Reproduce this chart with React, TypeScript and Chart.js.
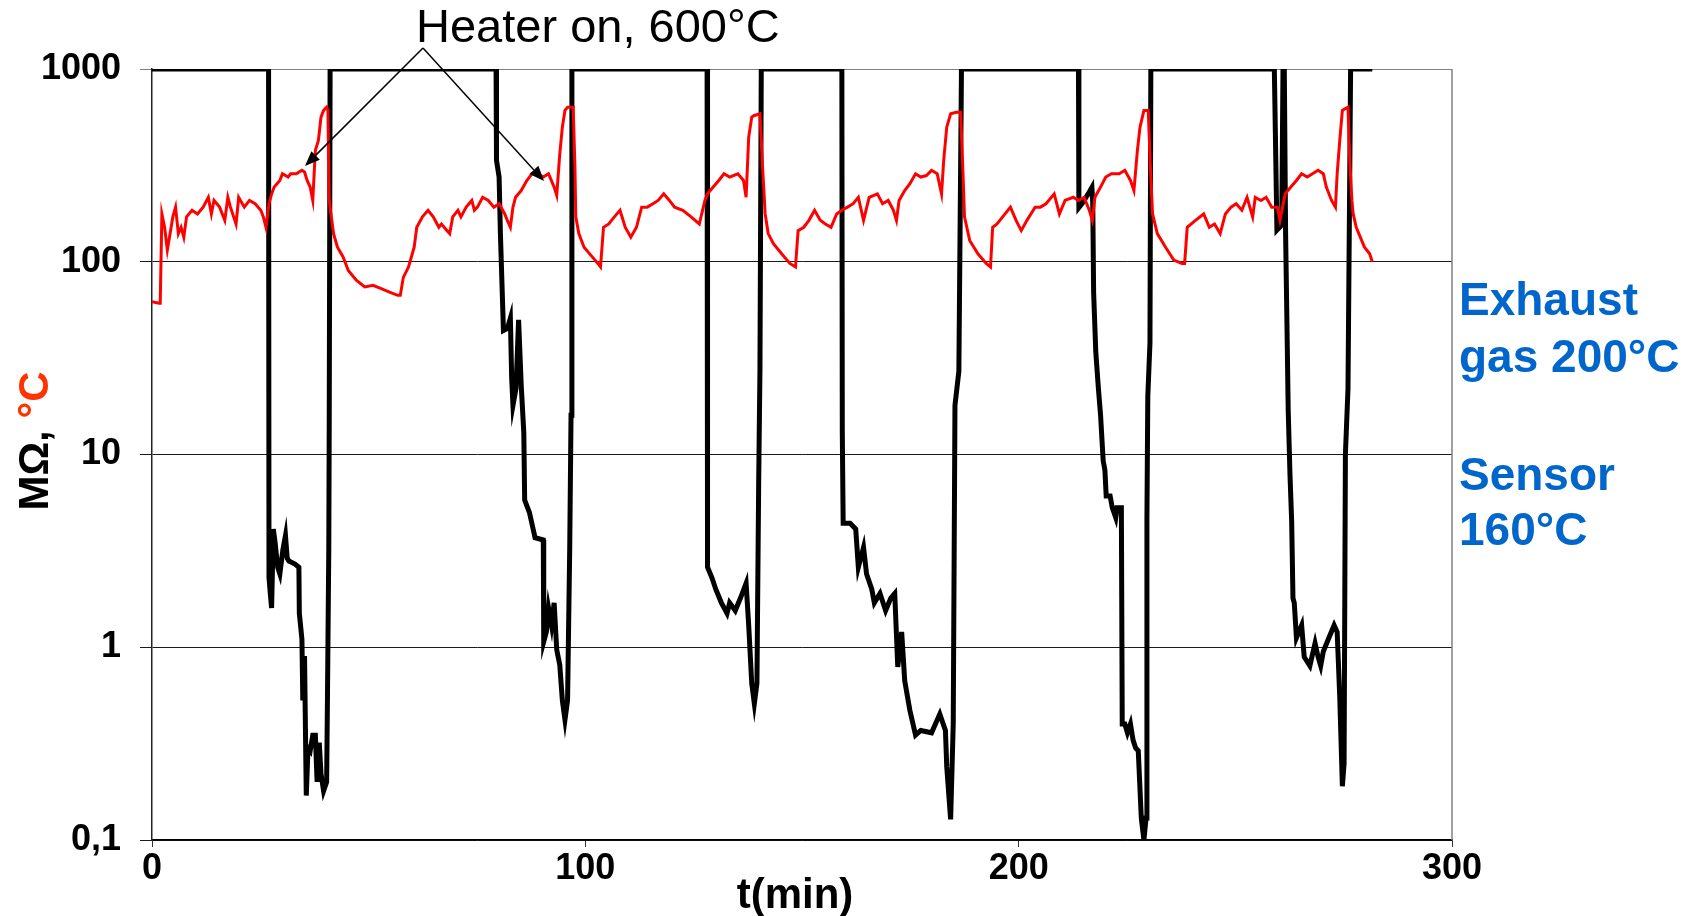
import React, { useEffect, useRef } from "react";
import { Chart, registerables } from "chart.js";

Chart.register(...registerables);

// Exhaust temperature (°C) – time in minutes
const tempT = [0, 1.65, 1.9, 2.28, 2.91, 3.54, 4.18, 4.81, 5.44, 6.08, 6.71, 7.34, 7.97, 9.24, 10.5, 11.8, 13.0, 13.7, 14.3, 15.6, 16.8, 17.5, 18.1, 19.4, 20.0, 21.3, 22.5, 23.8, 25.1, 25.7, 26.3, 27.0, 27.6, 28.2, 29.5, 30.1, 31.4, 32.0, 33.3, 34.6, 35.2, 35.8, 36.5, 37.1, 37.7, 38.4, 39.0, 39.6, 40.3, 40.6, 40.9, 41.3, 41.9, 42.8, 44.1, 45.3, 47.2, 49.1, 51.0, 52.9, 54.8, 56.7, 57.3, 58.0, 59.2, 60.5, 61.1, 62.4, 63.7, 64.9, 66.2, 66.8, 68.1, 68.7, 69.4, 70.6, 71.3, 72.5, 73.8, 74.4, 75.1, 76.3, 77.6, 78.9, 80.1, 81.4, 82.0, 82.7, 83.3, 83.9, 85.2, 86.5, 87.7, 89.0, 90.3, 91.5, 92.8, 93.4, 94.1, 94.7, 95.3, 95.9, 97.2, 97.6, 97.8, 98.5, 99.7, 101.6, 102.9, 103.5, 104.2, 105.4, 106.7, 108.0, 109.2, 110.5, 111.8, 113.0, 114.3, 115.6, 116.8, 118.1, 119.4, 120.6, 122.5, 124.4, 126.3, 127.6, 128.2, 129.5, 130.8, 132.0, 133.3, 135.2, 136.5, 137.1, 137.7, 138.4, 139.0, 140.3, 140.9, 141.5, 142.2, 143.4, 145.3, 147.2, 148.5, 149.1, 150.4, 151.6, 152.9, 154.2, 155.4, 156.7, 158.0, 159.2, 160.5, 161.8, 163.0, 164.2, 165.5, 167.4, 168.6, 169.9, 171.1, 171.8, 172.4, 173.7, 174.9, 176.2, 177.4, 178.7, 179.9, 181.2, 182.2, 182.7, 183.4, 184.3, 185.6, 186.6, 187.1, 187.5, 188.7, 190.6, 192.5, 193.5, 194.0, 195.0, 196.3, 198.1, 199.4, 200.6, 201.9, 203.8, 205.0, 206.3, 208.2, 209.4, 210.7, 212.6, 213.8, 215.1, 216.3, 217.0, 217.6, 218.9, 220.1, 221.4, 223.2, 224.5, 225.8, 226.6, 227.4, 228.0, 228.9, 229.9, 230.4, 230.9, 232.0, 233.9, 235.8, 237.7, 238.3, 238.9, 240.8, 242.7, 244.0, 245.2, 246.5, 247.7, 249.0, 250.2, 251.5, 252.7, 254.0, 254.6, 255.9, 257.1, 258.4, 259.7, 260.3, 260.9, 261.5, 262.8, 264.1, 265.3, 266.6, 267.8, 269.1, 270.3, 271.0, 272.2, 273.1, 273.5, 274.1, 274.7, 275.3, 276.0, 276.4, 276.9, 277.2, 277.9, 278.5, 279.8, 281.0, 281.6];
const tempV = [62, 61, 61, 177, 151, 115, 140, 171, 192, 140, 151, 134, 171, 185, 177, 192, 216, 177, 208, 192, 164, 216, 192, 157, 216, 192, 208, 200, 185, 171, 151, 200, 225, 244, 264, 286, 275, 286, 286, 298, 292, 264, 244, 208, 378, 426, 563, 610, 634, 610, 208, 177, 140, 119, 106, 90, 80, 74, 75.5, 72.5, 69.6, 67, 67, 83, 94, 119, 151, 171, 185, 171, 151, 157, 145, 140, 171, 185, 171, 192, 208, 185, 192, 216, 208, 192, 200, 177, 164, 151, 192, 216, 234, 264, 286, 286, 275, 286, 244, 221, 363, 499, 610, 634, 634, 310, 171, 140, 119, 106, 98, 94, 151, 157, 171, 185, 151, 134, 151, 192, 192, 200, 208, 225, 208, 192, 185, 171, 157, 208, 225, 244, 264, 286, 275, 286, 264, 216, 443, 563, 574, 586, 310, 177, 140, 124, 110, 98, 94, 145, 151, 164, 185, 164, 157, 151, 177, 185, 192, 200, 216, 164, 216, 225, 200, 208, 185, 164, 208, 234, 254, 286, 275, 280, 298, 286, 225, 336, 499, 586, 597, 597, 310, 171, 129, 110, 98, 94, 151, 157, 171, 192, 164, 145, 164, 192, 192, 200, 225, 177, 208, 216, 208, 216, 185, 164, 216, 244, 275, 286, 286, 298, 264, 234, 378, 499, 610, 610, 310, 177, 140, 119, 102, 98, 98, 151, 164, 177, 151, 157, 140, 177, 192, 200, 185, 216, 171, 216, 208, 216, 192, 192, 164, 192, 225, 244, 264, 286, 275, 286, 298, 286, 244, 208, 192, 286, 426, 610, 622, 634, 336, 208, 177, 151, 140, 119, 110, 100];

// Sensor resistance (MΩ) – time in minutes
const resT = [0, 26.9, 27.0, 27.3, 27.6, 28.0, 28.4, 29.0, 29.5, 30.2, 30.8, 31.2, 31.6, 33.0, 33.9, 34.0, 34.6, 34.8, 35.2, 35.6, 36.0, 36.5, 37.1, 37.7, 38.1, 38.6, 39.0, 39.6, 40.3, 40.5, 40.8, 40.9, 41.1, 79.4, 79.5, 80.1, 80.4, 81.1, 82.0, 82.7, 83.0, 83.3, 84.0, 84.6, 85.2, 85.8, 86.0, 87.1, 88.4, 90.3, 90.4, 91.0, 91.5, 92.2, 92.8, 93.4, 94.1, 94.7, 95.3, 95.9, 96.4, 96.7, 96.9, 128.1, 128.2, 129.2, 130.1, 131.4, 132.7, 133.3, 134.6, 135.8, 137.1, 137.7, 138.4, 139.0, 139.6, 140.0, 140.3, 140.6, 159.2, 159.3, 159.5, 161.1, 162.4, 163.0, 164.2, 164.9, 166.1, 166.7, 168.0, 169.3, 170.5, 171.4, 172.1, 173.0, 173.7, 174.9, 176.2, 177.4, 179.9, 181.8, 183.1, 183.4, 184.3, 184.9, 185.3, 186.2, 186.8, 213.8, 213.9, 214.6, 215.5, 216.3, 216.9, 217.1, 217.3, 217.8, 218.4, 218.9, 219.5, 219.9, 220.2, 221.1, 221.6, 222.4, 222.7, 223.7, 223.9, 224.5, 225.1, 225.8, 226.4, 227.0, 227.6, 228.3, 228.9, 229.4, 229.6, 229.8, 230.3, 230.5, 259.0, 259.6, 260.7, 261.0, 261.3, 261.6, 262.0, 262.2, 262.6, 263.0, 263.3, 263.6, 264.1, 265.3, 265.9, 267.2, 268.4, 269.1, 269.7, 270.3, 271.6, 272.8, 273.5, 274.1, 274.7, 275.1, 275.4, 276.0, 276.6, 281.6];
const resV = [1000, 1000, 2.3, 1.9, 1.6, 4.1, 3.5, 2.6, 2.4, 3.2, 3.8, 2.9, 2.8, 2.7, 2.6, 1.5, 1.1, 0.53, 0.9, 0.17, 0.3, 0.29, 0.35, 0.35, 0.2, 0.32, 0.22, 0.18, 0.2, 0.57, 3.3, 15, 1000, 1000, 336, 275, 140, 44, 45, 51, 25, 18, 22, 50, 23, 13, 5.8, 5.0, 3.7, 3.6, 1.07, 1.2, 1.6, 1.3, 1.7, 0.97, 0.81, 0.53, 0.42, 0.53, 3.3, 16, 1000, 1000, 2.6, 2.3, 2.0, 1.7, 1.5, 1.7, 1.55, 1.8, 2.15, 1.3, 0.65, 0.51, 0.65, 7.0, 28, 1000, 1000, 13, 4.4, 4.4, 4.1, 2.6, 3.3, 2.4, 2.0, 1.7, 1.9, 1.55, 1.8, 1.9, 0.79, 1.2, 0.67, 0.47, 0.35, 0.37, 0.36, 0.45, 0.37, 0.24, 0.128, 0.4, 18, 27, 1000, 1000, 191, 200, 215, 230, 243, 200, 69, 34, 22, 16, 9.3, 8.3, 6.1, 6.1, 5.3, 4.7, 5.3, 5.3, 0.4, 0.4, 0.36, 0.4, 0.33, 0.3, 0.29, 0.13, 0.1, 0.13, 4.7, 20, 38, 1000, 1000, 146, 155, 1000, 1000, 140, 35, 17, 8, 4.5, 1.8, 1.7, 1.12, 1.3, 0.89, 0.8, 1.05, 0.89, 0.8, 0.95, 1.12, 1.3, 1.2, 0.55, 0.19, 0.25, 10, 22, 1000, 1000];

const yTicks = [0.1, 1, 10, 100, 1000];
const xTicks = [0, 100, 200, 300];

const FONT = "'Liberation Sans', Arial, sans-serif";

const annotPlugin = {
  id: "annot",
  beforeDatasetsDraw(chart: any) {
    const { ctx, chartArea } = chart;
    ctx.save();
    ctx.strokeStyle = "#808080";
    ctx.lineWidth = 1.5;
    ctx.beginPath();
    ctx.moveTo(chartArea.right, chartArea.top);
    ctx.lineTo(chartArea.right, chartArea.bottom);
    ctx.stroke();
    ctx.restore();
  },
  afterDraw(chart: any) {
    const { ctx } = chart;
    ctx.save();
    // Heater annotation
    ctx.fillStyle = "#000";
    ctx.font = `47px ${FONT}`;
    ctx.textAlign = "left";
    ctx.textBaseline = "alphabetic";
    ctx.fillText("Heater on, 600°C", 416, 42);
    const apex = [423, 48];
    const tips = [[305, 166], [544, 181]];
    ctx.strokeStyle = "#000";
    ctx.lineWidth = 1.5;
    for (const [tx, ty] of tips) {
      const ang = Math.atan2(ty - apex[1], tx - apex[0]);
      const len = 15, half = 6;
      const bx = tx - len * Math.cos(ang), by = ty - len * Math.sin(ang);
      ctx.beginPath();
      ctx.moveTo(apex[0], apex[1]);
      ctx.lineTo(bx, by);
      ctx.stroke();
      ctx.beginPath();
      ctx.moveTo(tx, ty);
      ctx.lineTo(bx + half * Math.sin(ang), by - half * Math.cos(ang));
      ctx.lineTo(bx - half * Math.sin(ang), by + half * Math.cos(ang));
      ctx.closePath();
      ctx.fill();
    }
    // Right-side labels
    ctx.fillStyle = "#0066CC";
    ctx.font = `bold 46px ${FONT}`;
    ctx.fillText("Exhaust", 1459, 315);
    ctx.fillText("gas 200°C", 1459, 372);
    ctx.fillText("Sensor", 1459, 490);
    ctx.fillText("160°C", 1459, 545);
    // x title
    ctx.fillStyle = "#000";
    ctx.font = `bold 42px ${FONT}`;
    ctx.textAlign = "center";
    ctx.fillText("t(min)", 795, 908);
    // y title, two colours
    ctx.font = `bold 42px ${FONT}`;
    ctx.textAlign = "left";
    const p1 = "MΩ, ";
    const p2 = "°C";
    const w1 = ctx.measureText(p1).width;
    const w2 = ctx.measureText(p2).width;
    ctx.translate(48, 441);
    ctx.rotate(-Math.PI / 2);
    const start = -(w1 + w2) / 2;
    ctx.fillStyle = "#000";
    ctx.fillText(p1, start, 0);
    ctx.fillStyle = "#FF3300";
    ctx.fillText(p2, start + w1, 0);
    ctx.restore();
  },
};

export default function App() {
  const ref = useRef<HTMLCanvasElement>(null);
  useEffect(() => {
    if (!ref.current) return;
    const temp = tempT.map((t, i) => ({ x: t, y: tempV[i] }));
    const res = resT.map((t, i) => ({ x: t, y: resV[i] }));
    const chart = new Chart(ref.current, {
      type: "line",
      data: {
        datasets: [
          {
            label: "Exhaust gas °C",
            data: temp,
            borderColor: "#FF0000",
            borderWidth: 3,
            pointRadius: 0,
            tension: 0,
            fill: false,
          },
          {
            label: "Sensor MΩ",
            data: res,
            borderColor: "#000000",
            borderWidth: 5,
            pointRadius: 0,
            tension: 0,
            fill: false,
            borderJoinStyle: "miter",
          },
        ],
      },
      options: {
        animation: false,
        responsive: false,
        parsing: true,
        layout: { padding: { left: 0, top: 69, right: 251, bottom: 0 } },
        plugins: { legend: { display: false }, tooltip: { enabled: false } },
        scales: {
          x: {
            type: "linear",
            min: 0,
            max: 300,
            afterBuildTicks: (scale: any) => {
              scale.ticks = xTicks.map((v) => ({ value: v }));
            },
            afterFit: (scale: any) => {
              scale.height = 76;
            },
            ticks: {
              color: "#000",
              font: { family: FONT, size: 36, weight: "bold" },
              padding: 0,
              maxRotation: 0,
              autoSkip: false,
            },
            grid: { drawOnChartArea: false, drawTicks: true, tickLength: 7, color: "#333" },
            border: { color: "#000", width: 1.5 },
          },
          y: {
            type: "logarithmic",
            min: 0.1,
            max: 1000,
            afterBuildTicks: (scale: any) => {
              scale.ticks = yTicks.map((v) => ({ value: v }));
            },
            afterFit: (scale: any) => {
              scale.width = 152;
            },
            ticks: {
              color: "#000",
              font: { family: FONT, size: 36, weight: "bold" },
              padding: 19,
              autoSkip: false,
              callback: (v: any) => (Number(v) === 0.1 ? "0,1" : String(v)),
            },
            grid: {
              tickLength: 12,
              lineWidth: 1,
              color: (c: any) => (c.tick && c.tick.value === 1000 ? "#808080" : "#1a1a1a"),
            },
            border: { color: "#222", width: 1.5 },
          },
        },
      },
      plugins: [annotPlugin],
    });
    return () => chart.destroy();
  }, []);
  return (
    <div style={{ position: "absolute", left: 0, top: 0, width: 1703, height: 916, background: "#fff" }}>
      <canvas ref={ref} width={1703} height={916} style={{ display: "block" }} />
    </div>
  );
}
